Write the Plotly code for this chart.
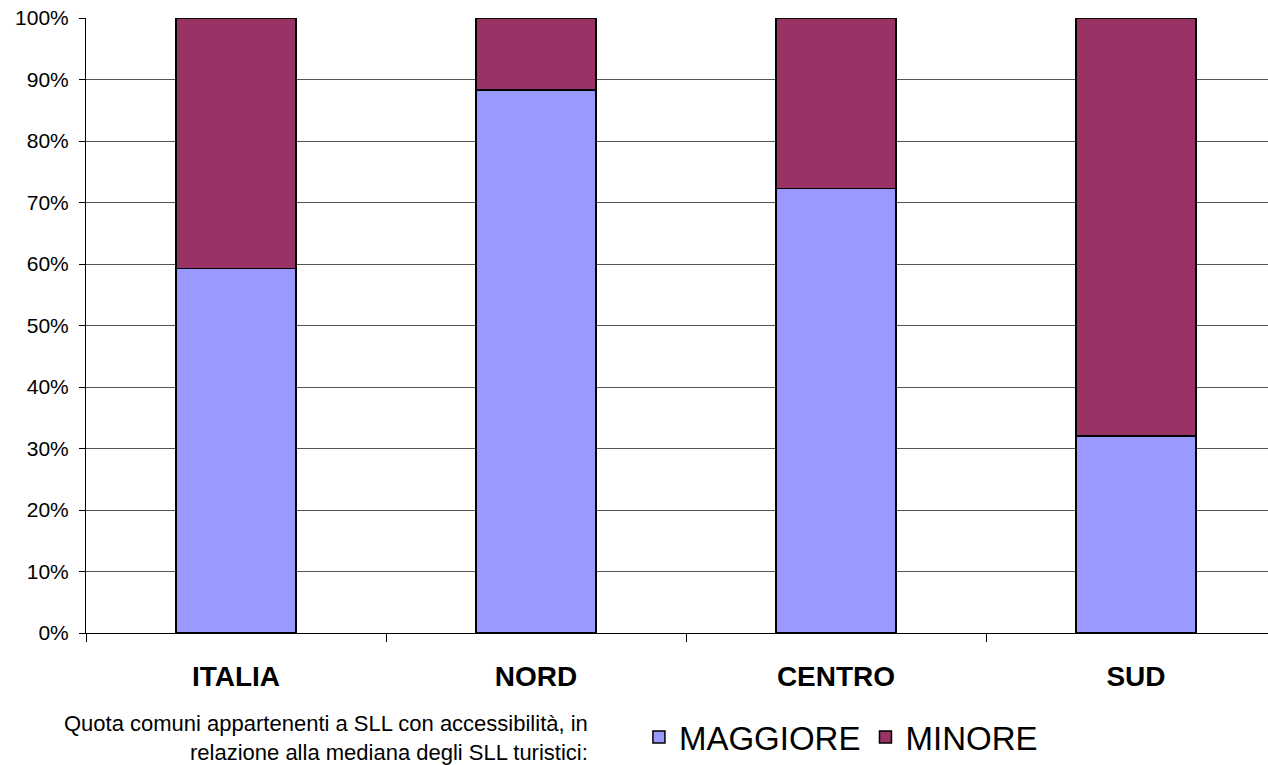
import plotly.graph_objects as go

categories = ["ITALIA", "NORD", "CENTRO", "SUD"]
maggiore = [0.593, 0.883, 0.723, 0.320]
minore = [0.407, 0.117, 0.277, 0.680]
ytick_vals = [0, 0.1, 0.2, 0.3, 0.4, 0.5, 0.6, 0.7, 0.8, 0.9, 1.0]
ytick_text = ["0%", "10%", "20%", "30%", "40%", "50%", "60%", "70%", "80%", "90%", "100%"]

fig = go.Figure()
fig.add_trace(go.Bar(x=categories, y=maggiore, name="MAGGIORE", width=0.4,
                     marker=dict(color="#9999FF", line=dict(color="#000000", width=1.5))))
fig.add_trace(go.Bar(x=categories, y=minore, name="MINORE", width=0.4,
                     marker=dict(color="#993366", line=dict(color="#000000", width=1.5))))

fig.update_layout(
    barmode="stack",
    width=1268, height=765,
    margin=dict(l=86, r=0, t=18, b=132, autoexpand=False),
    paper_bgcolor="white", plot_bgcolor="white",
    font=dict(family="Liberation Sans, Arial, sans-serif", color="#000000"),
    showlegend=True,
    legend=dict(orientation="h", x=0.4678, y=-0.169, xanchor="left", yanchor="middle",
                font=dict(size=33), traceorder="normal", itemwidth=30),
    annotations=[dict(text="Quota comuni appartenenti a SLL con accessibilità, in<br>relazione alla mediana degli SLL turistici:",
                      xref="paper", yref="paper", x=0.4264, y=-0.1715, xanchor="right", yanchor="middle",
                      align="right", showarrow=False, font=dict(size=22))],
)
fig.update_xaxes(range=[-0.5, 3.44], showline=True, linecolor="#000000", linewidth=1,
                 ticks="outside", tickson="boundaries", ticklen=8, tickcolor="#000000",
                 tickfont=dict(size=28, weight="bold"), ticklabelstandoff=18, showgrid=False,
                 automargin=False)
fig.update_yaxes(range=[0, 1], tickvals=ytick_vals, ticktext=ytick_text, showline=True,
                 linecolor="#000000", linewidth=1, ticks="outside", ticklen=6, tickcolor="#000000",
                 showgrid=True, gridcolor="#555555", gridwidth=1, tickfont=dict(size=21),
                 ticklabelstandoff=6, ticklabeloverflow="allow", zeroline=False, automargin=False)

fig.write_html("out.html", config={"displayModeBar": False},
               post_script="document.body.style.margin='0';")
